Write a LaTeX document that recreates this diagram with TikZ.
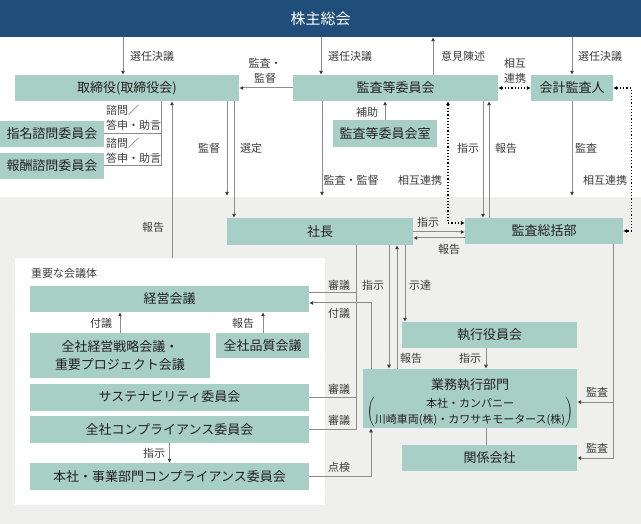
\documentclass[tikz,border=0pt]{standalone}
\usepackage{fontspec}
\setmainfont{Noto Sans CJK JP}
\usepackage{xcolor}
\usetikzlibrary{arrows.meta}
\definecolor{boxfill}{RGB}{167,207,197}
\definecolor{headblue}{RGB}{31,78,122}
\definecolor{bggray}{RGB}{239,239,237}
\definecolor{lncol}{RGB}{140,140,140}
\definecolor{tipcol}{RGB}{60,60,60}
\definecolor{txtcol}{RGB}{35,30,30}
\definecolor{lblcol}{RGB}{60,60,60}
\tikzset{
	box/.style={fill=boxfill, inner sep=0pt, text=txtcol, font=\fontsize{13}{18}\selectfont, align=center},
	lbl/.style={inner sep=0pt, text=lblcol, font=\fontsize{11}{15}\selectfont, align=center},
	conn/.style={draw=lncol, line width=1pt},
	arr/.style={conn, -{Latex[length=4pt,width=4pt,color=tipcol]}},
	dotarr/.style={draw=black, line width=1.2pt, dotted, {Latex[length=4pt,width=4pt]}-{Latex[length=4pt,width=4pt]}},
}

\begin{document}
\begin{tikzpicture}[x=1pt, y=-1pt]
		\useasboundingbox (0,0) rectangle (641,524);
		\fill[bggray] (0,197) rectangle (641,524);
		\node[fill=white, minimum width=310pt, minimum height=247pt, inner sep=0pt] (kaigitai) at (170,381.5) {};
		\node[lbl, anchor=west] (kaigitai-t) at (31,273) {重要な会議体};

		\node[fill=headblue, text=white, minimum width=641pt, minimum height=37pt, inner sep=0pt, font=\fontsize{15}{18}\selectfont] (kabu) at (320.5,18.5) {株主総会};

		\node[box, minimum width=224pt, minimum height=26pt] (tori) at (127,88) {取締役(取締役会)};
		\node[box, minimum width=104pt, minimum height=26pt] (shimei) at (52,134) {指名諮問委員会};
		\node[box, minimum width=104pt, minimum height=26pt] (hoshu) at (52,166) {報酬諮問委員会};
		\node[box, minimum width=205pt, minimum height=26pt] (kansa) at (395.5,88) {監査等委員会};
		\node[box, minimum width=82pt, minimum height=26pt] (kaikei) at (572,88) {会計監査人};
		\node[box, minimum width=104pt, minimum height=27pt] (shitsu) at (385,133.5) {監査等委員会室};
		\node[box, minimum width=186pt, minimum height=27pt] (shacho) at (320,231.5) {社長};
		\node[box, minimum width=158pt, minimum height=26pt] (sokatsu) at (544,231) {監査総括部};

		\node[box, minimum width=279pt, minimum height=26pt] (keiei) at (169.5,299) {経営会議};
		\node[box, minimum width=180pt, minimum height=45pt] (senryaku) at (120,355.5) {全社経営戦略会議・\\重要プロジェクト会議};
		\node[box, minimum width=93pt, minimum height=25pt] (hinshitsu) at (262.5,345.5) {全社品質会議};
		\node[box, minimum width=279pt, minimum height=27pt] (sustain) at (169.5,397) {サステナビリティ委員会};
		\node[box, minimum width=279pt, minimum height=27pt] (comp) at (169.5,429.5) {全社コンプライアンス委員会};
		\node[box, minimum width=279pt, minimum height=27pt] (honsha) at (169.5,476.5) {本社・事業部門コンプライアンス委員会};

		\node[box, minimum width=175pt, minimum height=26pt] (shikko) at (489.5,335) {執行役員会};
		\node[box, minimum width=214pt, minimum height=59pt] (gyomu) at (470,398.5) {\rule{0pt}{21pt}業務執行部門\\[4pt]{\fontsize{11}{16}\selectfont$\left(\vcenter{\hbox{\begin{tabular}{@{}c@{}}本社・カンパニー\\川崎車両(株)・カワサキモータース(株)\end{tabular}}}\right)$}};
		\node[box, minimum width=175pt, minimum height=26pt] (kankei) at (489.5,458) {関係会社};

		\coordinate (tori-in) at (227,196);
		\coordinate (kansa-in) at (322,196);
		\coordinate (kaikei-in) at (572,196);

		% top part
		\draw[arr] (kabu.south -| 123,0) -- (tori.north -| 123,0);
		\draw[arr] (kabu.south -| 321,0) -- (kansa.north -| 321,0);
		\draw[arr] (kansa.north -| 433,0) -- (kabu.south -| 433,0);
		\draw[arr] (kabu.south -| kaikei) -- (kaikei.north);
		\draw[dotarr] (kansa.east) -- (kaikei.west);
		\draw[arr] (kansa.west) -- (tori.east);
		\draw[arr] (shitsu.north) -- (kansa.south -| shitsu);
		\draw[conn] (tori.south -| 161,0) |- (hoshu.east);
		\draw[conn] (shimei.east) -- (shimei.east -| 161,0);
		\draw[arr] (tori.south -| 227,0) -- (tori-in);
		\draw[arr] (tori.south -| 234,0) -- (shacho.north -| 234,0);
		\draw[arr] (kaigitai.north -| 172,0) -- (tori.south -| 172,0);
		\draw[arr] (kansa.south -| 322,0) -- (kansa-in);
		\draw[dotarr] (kansa.south -| 448,0) |- (sokatsu.west |- 0,223);
		\draw[arr] (kansa.south -| 483,0) -- (sokatsu.north -| 483,0);
		\draw[arr] (sokatsu.north -| 489,0) -- (kansa.south -| 489,0);
		\draw[arr] (kaikei.south) -- (kaikei-in);
		\draw[dotarr] (kaikei.east) -- ++(18,0) |- (sokatsu.east);
		\draw[arr] (shacho.east |- 0,232) -- (sokatsu.west |- 0,232);
		\draw[arr] (sokatsu.west |- 0,238) -- (shacho.east |- 0,238);

		% lower part
		\draw[conn] (shacho.south -| 356,0) |- (comp.east);
		\draw[conn] (keiei.east |- 0,293) -- ++(47,0);
		\draw[conn] (sustain.east) -- ++(47,0);
		\draw[arr] (gyomu.north -| 371,0) |- (keiei.east |- 0,303);
		\draw[arr] (honsha.east) -| (gyomu.south -| 371,0);
		\draw[arr] (shacho.south -| 389,0) -- (gyomu.north -| 389,0);
		\draw[arr] (gyomu.north -| 397,0) -- (shacho.south -| 397,0);
		\draw[arr] (shacho.south -| 405,0) -- (shikko.north -| 405,0);
		\draw[arr] (shikko.south -| 486,0) -- (gyomu.north -| 486,0);
		\draw[conn] (gyomu.south -| 486,0) -- (kankei.north -| 486,0);
		\draw[arr] (sokatsu.south -| 613,0) |- (kankei.east);
		\draw[arr] (sokatsu.south -| 613,0) |- (gyomu.east |- 0,402);
		\draw[arr] (senryaku.north -| 120,0) -- (keiei.south -| 120,0);
		\draw[arr] (hinshitsu.north -| 263,0) -- (keiei.south -| 263,0);
		\draw[arr] (comp.south) -- (honsha.north);

		% labels
		\node[lbl] (l-senin1) at (152,56) {選任決議};
		\node[lbl] (l-senin2) at (350,56) {選任決議};
		\node[lbl] (l-iken) at (463,56) {意見陳述};
		\node[lbl] (l-senin3) at (600,56) {選任決議};
		\node[lbl] (l-sogo1) at (515,70.5) {相互\\連携};
		\node[lbl] (l-kansa1) at (265,70.5) {監査・\\監督};
		\node[lbl] (l-hojo) at (367,112) {補助};
		\node[lbl, anchor=west, align=left] (l-shimon1) at (106,117.5) {諮問／\\答申・助言};
		\node[lbl, anchor=west, align=left] (l-shimon2) at (106,150.5) {諮問／\\答申・助言};
		\node[lbl] (l-kantoku) at (209,148) {監督};
		\node[lbl] (l-sentei) at (251,148) {選定};
		\node[lbl] (l-shiji1) at (468,148) {指示};
		\node[lbl] (l-hokoku1) at (506,148) {報告};
		\node[lbl] (l-kansa2) at (586,148) {監査};
		\node[lbl] (l-kansa3) at (351,180) {監査・監督};
		\node[lbl] (l-sogo2) at (420,180) {相互連携};
		\node[lbl] (l-sogo3) at (605,180) {相互連携};
		\node[lbl] (l-hokoku2) at (153,227) {報告};
		\node[lbl] (l-shiji2) at (428,222) {指示};
		\node[lbl] (l-hokoku3) at (449,249) {報告};
		\foreach \y [count=\i] in {285,389,420}
			\node[lbl] (l-shingi-\i) at (339,\y) {審議};
		\node[lbl] (l-shiji3) at (373,285) {指示};
		\node[lbl] (l-shitatsu) at (420,285) {示達};
		\node[lbl] (l-fugi1) at (339,313) {付議};
		\node[lbl] (l-fugi2) at (101,323) {付議};
		\node[lbl] (l-hokoku4) at (243,323) {報告};
		\node[lbl] (l-hokoku5) at (411,358) {報告};
		\node[lbl] (l-shiji4) at (470,358) {指示};
		\node[lbl] (l-kansa4) at (597,392) {監査};
		\node[lbl] (l-kansa5) at (597,448) {監査};
		\node[lbl] (l-shiji5) at (154,453) {指示};
		\node[lbl] (l-tenken) at (339,467) {点検};
	\end{tikzpicture}
\end{document}
